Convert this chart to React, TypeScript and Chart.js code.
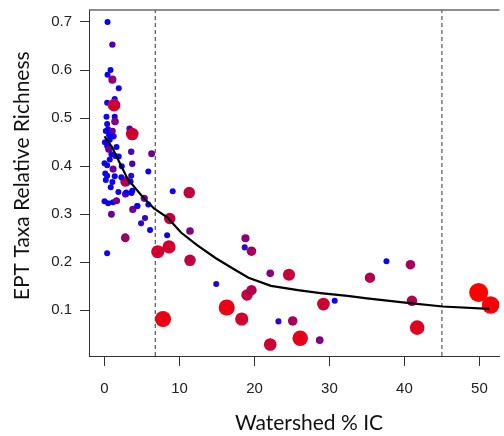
import React, { useEffect, useRef } from "react";
import { Chart, registerables } from "chart.js";

Chart.register(...registerables);

// Axis ticks and ranges
const X_TICKS = [0, 10, 20, 30, 40, 50];
const Y_TICKS = [0.1, 0.2, 0.3, 0.4, 0.5, 0.6, 0.7];
const X_RANGE = [-2.07, 52.68];
const Y_RANGE = [0.005, 0.726];

// Threshold lines (Watershed % IC)
const THRESHOLDS = [6.77, 45.0];

// Sites: Watershed % IC, EPT relative richness, and a weight (0 = blue/small, 1 = red/large)
const SITE_IC = [
  0.4, 1.05, 0.8, 0.4, 1.05, 1.9, 1.36, 0.35, 1.27, 0.26,
  1.36, 1.4, 0.35, 0.48, 0.17, 1.05, 1.23, 3.34, 3.7, 0.7,
  0.05, 0.35, 0.57, 3.56, 0.92, 6.28, 1.45, 0.7, 1.9, 0.0,
  0.35, 3.7, 1.14, 5.84, 2.8, 0.35, 1.36, 2.24, 3.56, 0.17,
  1.05, 3.47, 2.8, 3.7, 1.85, 0.83, 0.0, 0.48, 1.13, 1.6,
  3.77, 4.35, 0.92, 5.4, 5.84, 4.88, 6.07, 2.77, 0.35, 7.1,
  8.6, 7.8, 5.3, 9.1, 11.3, 8.7, 8.35, 11.4, 11.4, 18.8,
  18.7, 19.6, 14.9, 22.1, 24.6, 19.0, 19.6, 16.3, 18.3, 23.2,
  25.1, 22.1, 26.1, 28.7, 29.2, 30.7, 37.6, 40.8, 35.4, 41.0,
  41.7, 49.9, 51.5, 2.9, 3.6, 4.4, 0.6, 1.6, 2.3, 0.1
];
const SITE_EPT = [
  0.700, 0.653, 0.600, 0.590, 0.580, 0.562, 0.540, 0.532, 0.527, 0.503,
  0.503, 0.493, 0.488, 0.477, 0.473, 0.473, 0.462, 0.478, 0.467, 0.455,
  0.450, 0.442, 0.435, 0.430, 0.425, 0.426, 0.421, 0.414, 0.420, 0.406,
  0.402, 0.405, 0.394, 0.389, 0.368, 0.380, 0.379, 0.377, 0.380, 0.371,
  0.367, 0.368, 0.342, 0.349, 0.346, 0.356, 0.327, 0.323, 0.325, 0.328,
  0.310, 0.317, 0.300, 0.292, 0.320, 0.281, 0.267, 0.251, 0.219, 0.222,
  0.232, 0.082, 0.333, 0.348, 0.345, 0.291, 0.256, 0.265, 0.204, 0.250,
  0.231, 0.223, 0.155, 0.177, 0.174, 0.132, 0.142, 0.106, 0.082, 0.077,
  0.078, 0.029, 0.042, 0.038, 0.113, 0.120, 0.202, 0.195, 0.168, 0.120,
  0.064, 0.137, 0.111, 0.345, 0.344, 0.317, 0.465, 0.440, 0.400, 0.385
];
const SITE_WEIGHT = [
  0.02, 0.3, 0.05, 0.05, 0.55, 0.1, 0.05, 0.1, 0.8, 0.05,
  0.05, 0.5, 0.05, 0.05, 0.05, 0.4, 0.1, 0.3, 0.8, 0.05,
  0.05, 0.05, 0.45, 0.3, 0.05, 0.4, 0.05, 0.05, 0.05, 0.05,
  0.05, 0.3, 0.45, 0.05, 0.7, 0.05, 0.05, 0.05, 0.15, 0.05,
  0.05, 0.05, 0.45, 0.05, 0.05, 0.05, 0.05, 0.05, 0.05, 0.45,
  0.45, 0.1, 0.4, 0.2, 0.05, 0.2, 0.05, 0.6, 0.05, 0.82,
  0.82, 0.92, 0.45, 0.1, 0.75, 0.75, 0.05, 0.5, 0.75, 0.55,
  0.2, 0.65, 0.15, 0.5, 0.78, 0.75, 0.7, 0.92, 0.82, 0.2,
  0.65, 0.8, 0.9, 0.5, 0.8, 0.05, 0.05, 0.65, 0.7, 0.7,
  0.87, 1.0, 0.96, 0.05, 0.05, 0.05, 0.05, 0.05, 0.05, 0.05
];

// Smoothed fit
const CURVE_IC = [0, 1, 1.8, 3.1, 5.1, 6.6, 8.4, 10.2, 12.3, 14.8, 17, 19.2, 22.2, 25.8, 28.8, 32.4, 35, 40.7, 45.1, 51.3];
const CURVE_EPT = [0.462, 0.44, 0.414, 0.373, 0.336, 0.312, 0.293, 0.262, 0.236, 0.209, 0.188, 0.168, 0.151, 0.142, 0.136, 0.13, 0.125, 0.115, 0.108, 0.103];

const X_TITLE = "Watershed % IC";
const Y_TITLE = "EPT Taxa Relative Richness";

export default function App() {
  const ref = useRef<HTMLCanvasElement>(null);

  useEffect(() => {
    document.body.style.margin = "0";
    const canvas = ref.current;
    if (!canvas) return;

    const shade = (w: number) =>
      `rgb(${Math.round(255 * w)},0,${Math.round(255 * (1 - w))})`;
    const radius = (w: number) => 3 + 6.5 * Math.pow(w, 3);

    const deco = {
      id: "deco",
      afterDraw(chart: any) {
        const { ctx, chartArea: a } = chart;
        ctx.save();
        ctx.strokeStyle = "#6a6a6a";
        ctx.lineWidth = 1.5;
        ctx.beginPath();
        ctx.moveTo(a.left, a.top + 0.5);
        ctx.lineTo(a.right, a.top + 0.5);
        ctx.stroke();
        ctx.fillStyle = "#111";
        ctx.font = "21px Lato";
        ctx.textAlign = "center";
        ctx.textBaseline = "alphabetic";
        ctx.fillText(X_TITLE, a.left + 220, a.bottom + 74);
        ctx.translate(29, (a.top + a.bottom) / 2 - 7);
        ctx.rotate(-Math.PI / 2);
        ctx.fillText(Y_TITLE, 0, 0);
        ctx.restore();
      },
    };

    const chart = new Chart(canvas, {
      type: "scatter",
      data: {
        datasets: [
          {
            type: "line",
            data: CURVE_IC.map((x, i) => ({ x, y: CURVE_EPT[i] })),
            borderColor: "#000",
            borderWidth: 2.2,
            pointRadius: 0,
            fill: false,
            tension: 0,
          } as any,
          {
            type: "scatter",
            data: SITE_IC.map((x, i) => ({ x, y: SITE_EPT[i] })),
            pointBackgroundColor: SITE_WEIGHT.map(shade),
            pointBorderWidth: 0,
            pointBorderColor: "rgba(0,0,0,0)",
            pointRadius: SITE_WEIGHT.map(radius),
            pointHoverRadius: SITE_WEIGHT.map(radius),
          },
          ...THRESHOLDS.map((t) => ({
            type: "line",
            data: [
              { x: t, y: Y_RANGE[0] },
              { x: t, y: Y_RANGE[1] },
            ],
            borderColor: "#555",
            borderWidth: 1.2,
            borderDash: [4, 3],
            pointRadius: 0,
            fill: false,
          })) as any,
        ],
      },
      options: {
        animation: false,
        responsive: false,
        devicePixelRatio: 1,
        layout: { padding: { top: 5, left: 0, right: 0, bottom: 0 } },
        plugins: { legend: { display: false }, tooltip: { enabled: false } },
        scales: {
          x: {
            type: "linear",
            min: X_RANGE[0],
            max: X_RANGE[1],
            afterBuildTicks: (s: any) => {
              s.ticks = X_TICKS.map((v) => ({ value: v }));
            },
            afterFit: (s: any) => {
              s.height = 80;
              s.paddingLeft = 0;
              s.paddingRight = 0;
            },
            ticks: {
              padding: 14,
              color: "#222",
              font: { family: "Liberation Sans", size: 15 },
              maxRotation: 0,
              callback: (v: any) => String(v),
            },
            grid: {
              drawOnChartArea: false,
              drawTicks: true,
              tickLength: 10,
              color: "#333",
            },
            border: { display: true, color: "#333", width: 1 },
          },
          y: {
            type: "linear",
            min: Y_RANGE[0],
            max: Y_RANGE[1],
            afterBuildTicks: (s: any) => {
              s.ticks = Y_TICKS.map((v) => ({ value: v }));
            },
            afterFit: (s: any) => {
              s.width = 89;
              s.paddingTop = 0;
              s.paddingBottom = 0;
            },
            ticks: {
              padding: 8,
              color: "#222",
              font: { family: "Liberation Sans", size: 15 },
              callback: (v: any) => Number(v).toFixed(1),
            },
            grid: {
              drawOnChartArea: false,
              drawTicks: true,
              tickLength: 9,
              color: "#333",
            },
            border: { display: true, color: "#333", width: 1 },
          },
        },
      },
      plugins: [deco],
    });

    return () => chart.destroy();
  }, []);

  return (
    <div
      style={{
        position: "absolute",
        left: 0,
        top: 0,
        width: 504,
        height: 436,
        overflow: "hidden",
        background: "#fff",
      }}
    >
      <canvas
        ref={ref}
        width={509}
        height={436}
        style={{ width: 509, height: 436, display: "block" }}
      />
    </div>
  );
}
